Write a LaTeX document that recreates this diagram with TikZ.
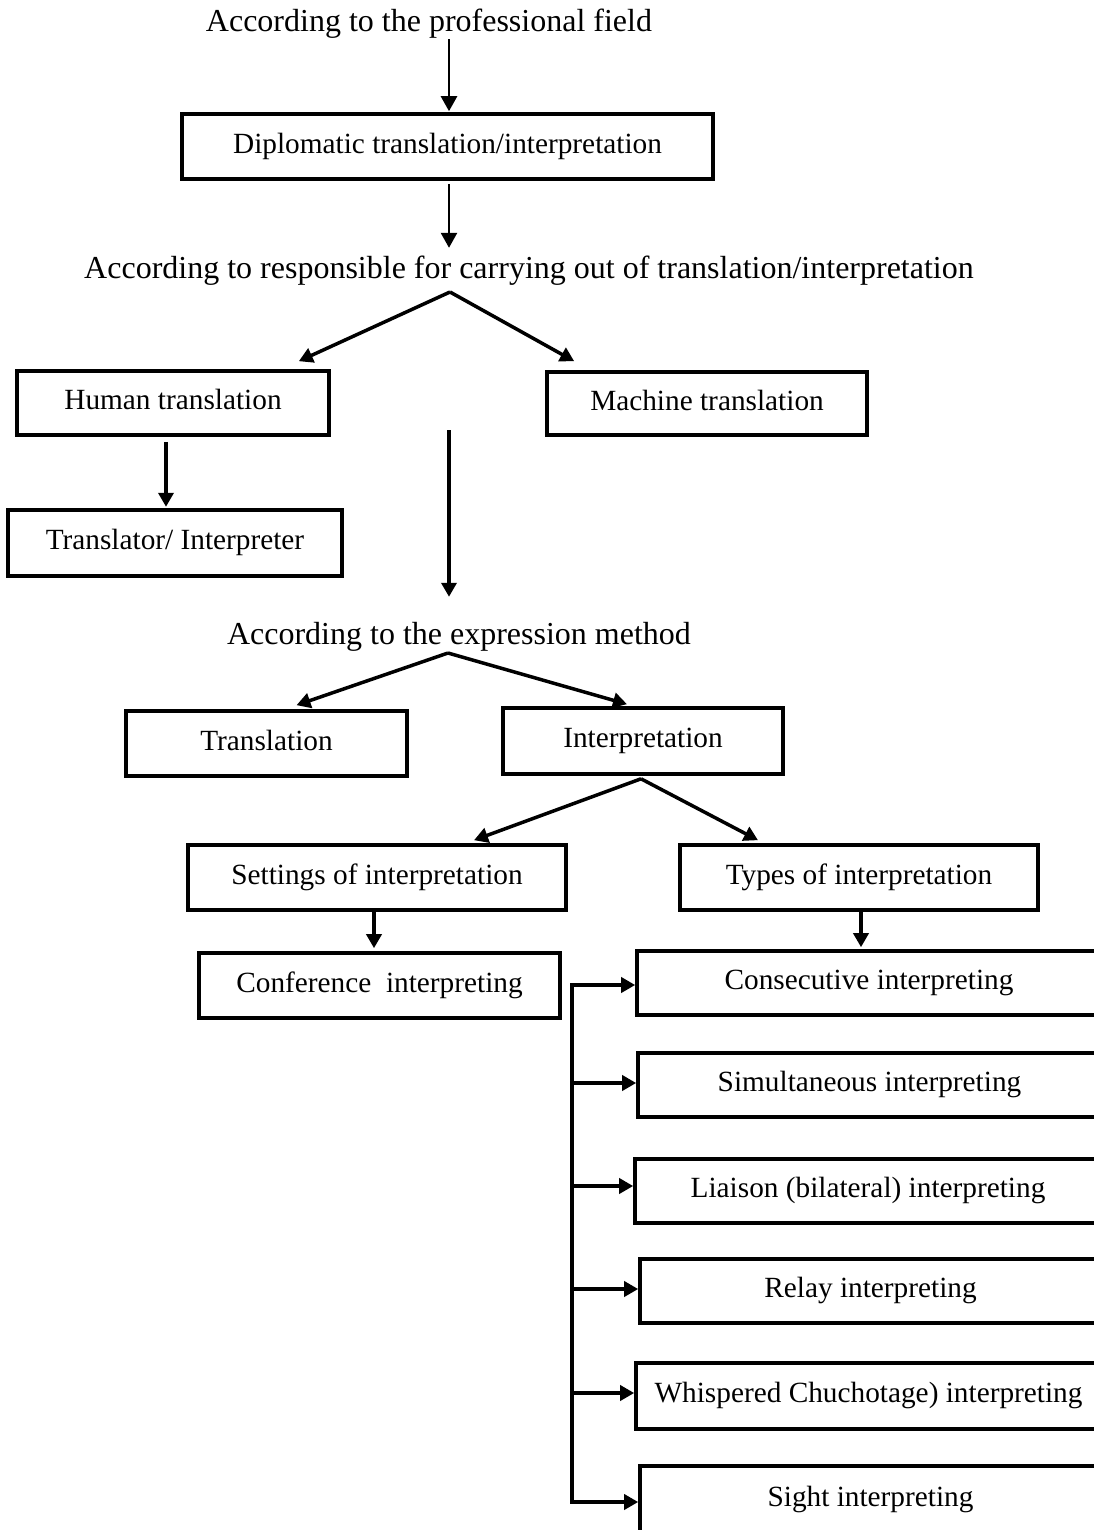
\documentclass[tikz,border=0pt]{standalone}
\usepackage{fontspec}
\setmainfont{Liberation Serif}
\usetikzlibrary{arrows.meta,calc}
\begin{document}
\begin{tikzpicture}[x=1pt,y=-1pt,
  box/.style={draw, line width=3.6pt, inner sep=0pt, font=\fontsize{29.3}{34}\selectfont, text height=20pt, text depth=6.4pt, minimum height=65pt},
  head/.style={inner sep=0pt, font=\fontsize{32}{38}\selectfont, anchor=base, text height=22pt, text depth=7pt},
  arr/.style={line width=3.5pt, -{Triangle[length=14pt,width=15pt]}},
  thinarr/.style={line width=2.6pt, -{Triangle[length=15pt,width=16pt]}},
  bus/.style={line width=3.5pt, line cap=rect}]
\useasboundingbox (0,0) rectangle (1094,1530);
\clip (0,0) rectangle (1094,1530);

% headings
\node[head] (t1) at (429,32) {According to the professional field};
\node[head] (t2) at (529,278) {According to responsible for carrying out of translation/interpretation};
\node[head] (t3) at (459,644) {According to the expression method};

% boxes
\node[box, minimum width=531pt] (dip) at (447.5,146.5) {Diplomatic translation/interpretation};
\node[box, minimum width=312pt, minimum height=64pt] (hum) at (173,403) {Human translation};
\node[box, minimum width=320pt, minimum height=63pt] (mac) at (707,403.5) {Machine translation};
\node[box, minimum width=334pt, minimum height=66pt] (tri) at (175,543) {Translator/ Interpreter};
\node[box, minimum width=281pt] (trn) at (266.5,743.5) {Translation};
\node[box, minimum width=280pt, minimum height=66pt] (int) at (643,741) {Interpretation};
\node[box, minimum width=378pt] (set) at (377,877.5) {Settings of interpretation};
\node[box, minimum width=358pt] (typ) at (859,877.5) {Types of interpretation};
\node[box, minimum width=361pt] (con) at (379.5,985.5) {Conference\ \ interpreting};
\node[box, minimum width=464pt, minimum height=64pt] (cns) at (869,983) {Consecutive interpreting};
\node[box, minimum width=463pt, minimum height=64pt] (sim) at (869.5,1085) {Simultaneous interpreting};
\node[box, minimum width=466pt, minimum height=64pt] (lia) at (868,1191) {Liaison (bilateral) interpreting};
\node[box, minimum width=461pt, minimum height=64pt] (rel) at (870.5,1291) {Relay interpreting};
\node[box, minimum width=465pt, minimum height=66pt] (whi) at (868.5,1396) {Whispered Chuchotage) interpreting};
\node[box, minimum width=461pt, minimum height=68pt] (sig) at (870.5,1500) {Sight interpreting};

% top arrows
\draw[thinarr] ([xshift=1.5pt]dip.north |- t1.south) -- ([xshift=1.5pt,yshift=1pt]dip.north);
\draw[thinarr, shorten >=8pt] ([xshift=1.5pt,yshift=-3pt]dip.south) -- ([xshift=1.5pt]dip.south |- t2.north);

% branch 1
\coordinate (ap1) at (450,292);
\draw[arr] (ap1) -- ($(hum.north east)+(-32,-8)$);
\draw[arr] (ap1) -- ($(mac.north west)+(29,-9)$);
\draw[arr] ($(hum.south)+(-7,5)$) -- ($(hum.south)+(-7,70)$);

% free arrow to expression method
\coordinate (m1) at (449,430);
\draw[arr, shorten >=25pt] (m1) -- (m1 |- t3.north);

% branch 2
\coordinate (ap2) at (448,653);
\draw[arr] (ap2) -- ($(trn.north)+(30,-4)$);
\draw[arr] (ap2) -- ($(int.north)+(-16,-2)$);

% branch 3
\coordinate (ap3) at ($(int.south)+(-2,3)$);
\draw[arr] (ap3) -- ($(set.north)+(97,-3)$);
\draw[arr] (ap3) -- ($(typ.north)+(-101,-3)$);
\draw[arr] ([xshift=-3pt]set.south) -- ([xshift=-3pt,yshift=3pt]set.south |- con.north);
\draw[arr] ([xshift=2pt]typ.south) -- ([xshift=2pt,yshift=2pt]typ.south |- cns.north);

% bus
\coordinate (bx) at (572,0);
\draw[bus] ($(bx |- cns.west)+(0,2)$) -- ($(bx |- sig.west)+(0,2)$);
\draw[arr] ($(bx |- cns.west)+(0,2)$) -- ($(cns.west)+(0,2)$);
\draw[arr] ($(bx |- sim.west)+(0,-2)$) -- ($(sim.west)+(0,-2)$);
\draw[arr] ($(bx |- lia.west)+(0,-5)$) -- ($(lia.west)+(0,-5)$);
\draw[arr] ($(bx |- rel.west)+(0,-2)$) -- ($(rel.west)+(0,-2)$);
\draw[arr] ($(bx |- whi.west)+(0,-3)$) -- ($(whi.west)+(0,-3)$);
\draw[arr] ($(bx |- sig.west)+(0,2)$) -- ($(sig.west)+(0,2)$);
\end{tikzpicture}
\end{document}
